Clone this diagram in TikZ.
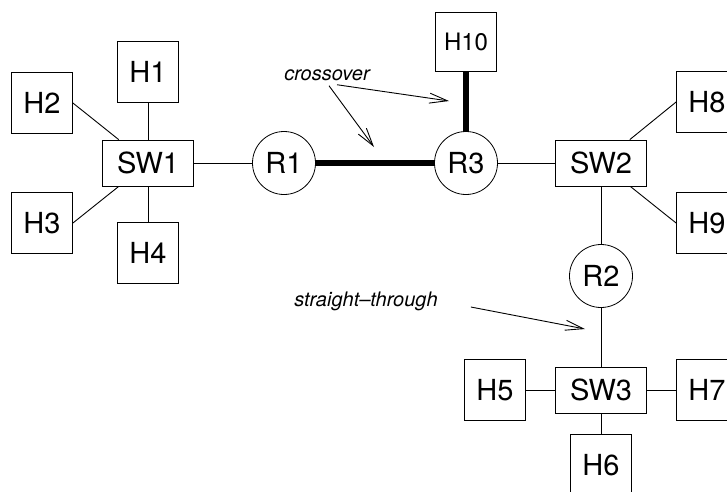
\documentclass[tikz,border=0pt]{standalone}
\usepackage{fontspec}
\setmainfont{TeX Gyre Heros}
\usetikzlibrary{arrows.meta}

\begin{document}
\begin{tikzpicture}[x=1pt, y=-1pt,
    host/.style={draw, line width=0.8pt, minimum width=61pt, minimum height=61pt, inner sep=0pt, font=\fontsize{29}{32}\selectfont},
    switch/.style={draw, line width=0.8pt, minimum width=91pt, minimum height=46pt, inner sep=0pt, font=\fontsize{29}{32}\selectfont},
    router/.style={draw, circle, line width=0.8pt, minimum size=63pt, inner sep=0pt, font=\fontsize{29}{32}\selectfont},
    link/.style={line width=0.9pt},
    xover/.style={line width=5.5pt},
    note/.style={font=\fontsize{20}{23}\selectfont\itshape, inner sep=1pt},
    pointer/.style={line width=0.9pt, -{Straight Barb[length=18pt,width=10pt]}}]
    \path[use as bounding box, clip] (0,0) rectangle (727,491);
    % switches and routers
    \node[switch] (SW1) at (148,163) {SW1};
    \node[switch] (SW2) at (601,163) {SW2};
    \node[switch] (SW3) at (601,390) {SW3};
    \node[router] (R1) at (284,163) {R1};
    \node[router] (R3) at (466,163) {R3};
    \node[router] (R2) at (601,276) {R2};
    % hosts
    \foreach \n/\x/\y in {H1/148/72, H2/42/103, H3/42/223, H4/148/253,
                          H5/495/390, H6/601/465, H7/707/390, H8/707/102, H9/707/223} {
        \node[host] (\n) at (\x,\y) {\n};
    }
    \node[host, minimum height=59pt, font=\fontsize{24}{28}\selectfont] (H10) at (466,42) {H10};
    % links
    \foreach \a/\b in {H1/SW1, H4/SW1, SW1/R1, R3/SW2, SW2/R2, R2/SW3, H5/SW3, SW3/H7, SW3/H6} {
        \draw[link] (\a) -- (\b);
    }
    \draw[link] (H2.east) -- (SW1);
    \draw[link] (H3.east) -- (SW1);
    \draw[link] (H8.west) -- (SW2);
    \draw[link] (H9.west) -- (SW2);
    \draw[xover] (R1) -- (R3);
    \draw[xover] (R3) -- (H10);
    % labels
    \node[note] (cross) at (327,75) {crossover};
    \node[note] (straight) at (366,301) {straight–through};
    \coordinate (tipH10) at (449,101);
    \coordinate (tipR13) at (374,147);
    \coordinate (tipR2) at (585,329);
    \draw[pointer] ([xshift=10pt, yshift=-3pt]cross.south) -- (tipH10);
    \draw[pointer] ([xshift=2pt, yshift=-4pt]cross.south) -- (tipR13);
    \draw[pointer] ([xshift=32pt, yshift=-6pt]straight.east) -- (tipR2);
\end{tikzpicture}
\end{document}
